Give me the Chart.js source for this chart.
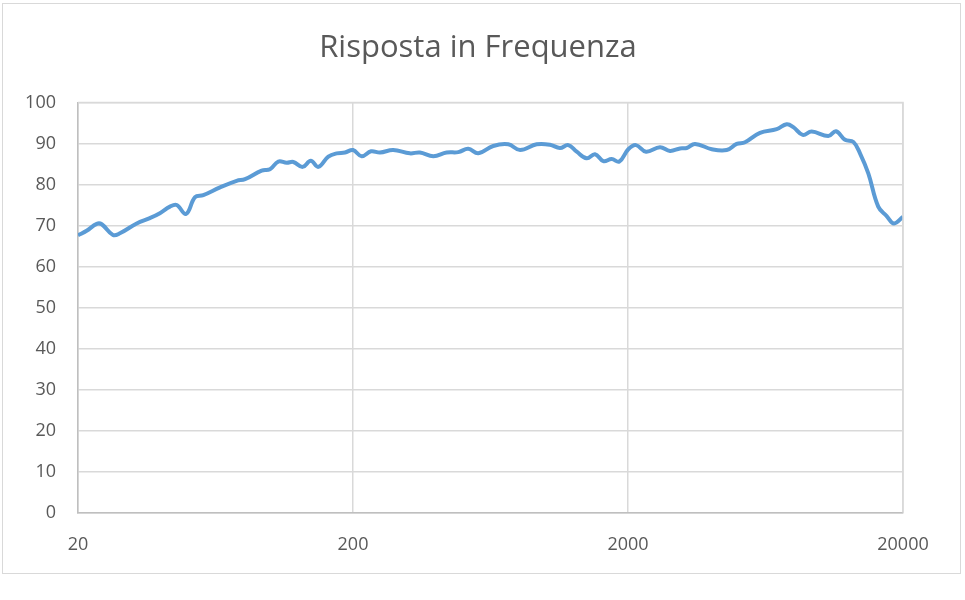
<!DOCTYPE html>
<html lang="it">
  <head>
    <meta charset="UTF-8" />
    <title>Risposta in Frequenza</title>
    <script src="https://cdn.jsdelivr.net/npm/chart.js"></script>
    <style>
      body {
        margin: 0;
        background-color: #ffffff;
      }

      .chart-frame {
        position: relative;
        width: 965px;
        height: 600px;
      }

      .chart-border {
        position: absolute;
        left: 2px;
        top: 3px;
        width: 957px;
        height: 569px;
        border: 1.5px solid #d9d9d9;
        pointer-events: none;
      }
    </style>
  </head>

  <body>
    <div class="chart-frame">
      <canvas id="freqChart" width="965" height="600"></canvas>
      <div class="chart-border"></div>
    </div>

    <script>
      // frequenze (Hz) e livello
      const frequencies = [
        20, 21.5, 23.4, 24.4, 26.8, 28.4, 32.7, 36.5, 39.7, 43.2, 45.7, 49.4,
        53.3, 57.1, 65.7, 75.5, 81, 93.1, 99.8, 107, 114.8, 121.3, 131.3, 140.4,
        149.6, 162.7, 174.5, 187, 200, 215, 232.6, 250.8, 280, 322, 350, 392,
        438, 483, 525, 571, 647, 734, 810, 931, 1041, 1131, 1213, 1302, 1415,
        1517, 1627, 1745, 1860, 2005, 2138, 2326, 2614, 2843, 3092, 3270, 3505,
        4032, 4570, 4970, 5328, 6040, 6946, 7554, 7984, 8638, 9312, 10700,
        11414, 12308, 13194, 13952, 14958, 16255, 17446, 18550, 20000,
      ];
      const levels = [
        67.6, 68.7, 70.4, 70.3, 67.7, 68.1, 70.5, 71.8, 73, 74.6, 75, 72.8,
        76.9, 77.4, 79.3, 80.9, 81.3, 83.4, 83.7, 85.6, 85.3, 85.5, 84.3, 85.8,
        84.3, 86.8, 87.6, 87.8, 88.4, 86.9, 88.1, 87.8, 88.4, 87.6, 87.8, 86.9,
        87.8, 87.9, 88.7, 87.6, 89.4, 89.8, 88.4, 89.8, 89.7, 88.9, 89.6, 88.0,
        86.4, 87.4, 85.7, 86.2, 85.6, 88.6, 89.6, 88.0, 89.1, 88.2, 88.8, 88.9,
        89.9, 88.6, 88.4, 89.9, 90.3, 92.6, 93.5, 94.7, 94.0, 92.1, 92.9, 91.8,
        93.0, 90.9, 90.4, 87.6, 82.7, 74.6, 72.3, 70.5, 72.1,
      ];
      const xTicks = [20, 200, 2000, 20000];
      const yMin = 0;
      const yMax = 100;
      const yStep = 10;
      const chartTitle = "Risposta in Frequenza";

      const points = frequencies.map((f, i) => ({ x: f, y: levels[i] }));
      const labelColor = "#595959";

      new Chart(document.getElementById("freqChart").getContext("2d"), {
        type: "line",
        data: {
          datasets: [
            {
              label: "Risposta",
              data: points,
              borderColor: "#5b9bd5",
              borderWidth: 4,
              pointRadius: 0,
              tension: 0.4,
              fill: false,
            },
          ],
        },
        options: {
          responsive: false,
          animation: false,
          layout: { padding: { left: 0, right: 62, top: 102.5, bottom: 0 } },
          plugins: {
            legend: { display: false },
            tooltip: { enabled: false },
          },
          scales: {
            x: {
              type: "logarithmic",
              min: 20,
              max: 20000,
              afterBuildTicks: (axis) => {
                axis.ticks = xTicks.map((v) => ({ value: v }));
              },
              afterFit: (axis) => {
                axis.height = 87.5;
              },
              ticks: {
                color: labelColor,
                font: { family: "Open Sans", size: 18 },
                padding: 22,
                maxRotation: 0,
                autoSkip: false,
                callback: (v) => String(v),
              },
              grid: { color: "#d9d9d9", lineWidth: 1.5, drawTicks: false },
              border: { color: "#bfbfbf", width: 1.5 },
            },
            y: {
              min: yMin,
              max: yMax,
              afterFit: (axis) => {
                axis.width = 78;
              },
              ticks: {
                stepSize: yStep,
                color: labelColor,
                font: { family: "Open Sans", size: 18 },
                padding: 22,
              },
              grid: { color: "#d9d9d9", lineWidth: 1.5, drawTicks: false },
              border: { color: "#bfbfbf", width: 1.5 },
            },
          },
        },
        plugins: [
          {
            id: "plotBorder",
            afterDraw(chart) {
              const { ctx, chartArea } = chart;
              ctx.save();
              ctx.strokeStyle = "#d9d9d9";
              ctx.lineWidth = 1.5;
              ctx.beginPath();
              ctx.moveTo(chartArea.left, chartArea.top);
              ctx.lineTo(chartArea.right, chartArea.top);
              ctx.lineTo(chartArea.right, chartArea.bottom);
              ctx.stroke();

              // titolo centrato sulla pagina come in Excel
              ctx.fillStyle = labelColor;
              ctx.font = "31px 'Open Sans'";
              ctx.textAlign = "center";
              ctx.textBaseline = "alphabetic";
              ctx.fillText(chartTitle, 478, 57);
              ctx.restore();
            },
          },
        ],
      });
    </script>
  </body>
</html>
